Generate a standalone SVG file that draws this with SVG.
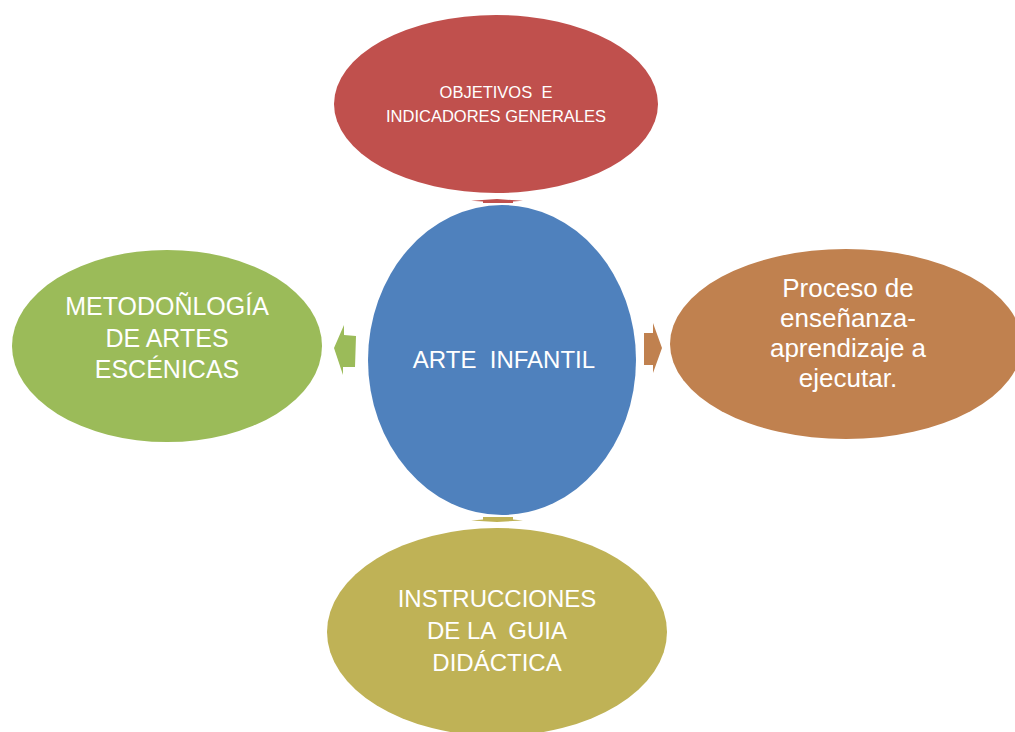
<svg xmlns="http://www.w3.org/2000/svg" width="1015" height="732" viewBox="0 0 1015 732">
<style>
text{font-family:"Liberation Sans",Arial,sans-serif;fill:#fff;text-anchor:middle;white-space:pre}
.big{font-size:24px}
.lg{font-size:25px}
.rt{font-size:26px}
.small{font-size:16.5px}
</style>
<rect width="1015" height="732" fill="#fff"/>
<g id="connectors">
<polygon fill="#C0504D" points="483,203 513,203 513,201.5 523,200.8 497,199 471,200.8 483,201.5"/>
<polygon fill="#BFB256" points="483,517 513,517 513,519.5 523,520.5 497,522 471,520.5 483,519.5"/>
<polygon fill="#9BBB59" points="356,336 355,367 343,367 343,375 334,348 344,325 344,335"/>
<polygon fill="#C0814F" points="644,333 653,333 653,323 662,348 653,373 653,365 644,365"/>
</g>
<g id="node-top">
<ellipse cx="496" cy="104" rx="162" ry="89" fill="#C0504D"/>
<text class="small" x="496" y="98" xml:space="preserve">OBJETIVOS  E</text>
<text class="small" x="496" y="122">INDICADORES GENERALES</text>
</g>
<g id="node-center">
<ellipse cx="502" cy="360" rx="134" ry="155" fill="#4F81BD"/>
<text class="big" x="504" y="368" xml:space="preserve">ARTE  INFANTIL</text>
</g>
<g id="node-left">
<ellipse cx="167" cy="346" rx="155" ry="96" fill="#9BBB59"/>
<text class="lg" x="167" y="315">METODOÑLOGÍA</text>
<text class="lg" x="167" y="347">DE ARTES</text>
<text class="lg" x="167" y="378">ESCÉNICAS</text>
</g>
<g id="node-right">
<ellipse cx="846" cy="344" rx="176" ry="95" fill="#C0814F"/>
<text class="rt" x="848" y="297">Proceso de</text>
<text class="rt" x="848" y="327">enseñanza-</text>
<text class="rt" x="848" y="357">aprendizaje a</text>
<text class="rt" x="848" y="387">ejecutar.</text>
</g>
<g id="node-bottom">
<ellipse cx="497" cy="632" rx="170" ry="104" fill="#BFB256"/>
<text class="big" x="497" y="607">INSTRUCCIONES</text>
<text class="big" x="497" y="639" xml:space="preserve">DE LA  GUIA</text>
<text class="big" x="497" y="671">DIDÁCTICA</text>
</g>
</svg>
